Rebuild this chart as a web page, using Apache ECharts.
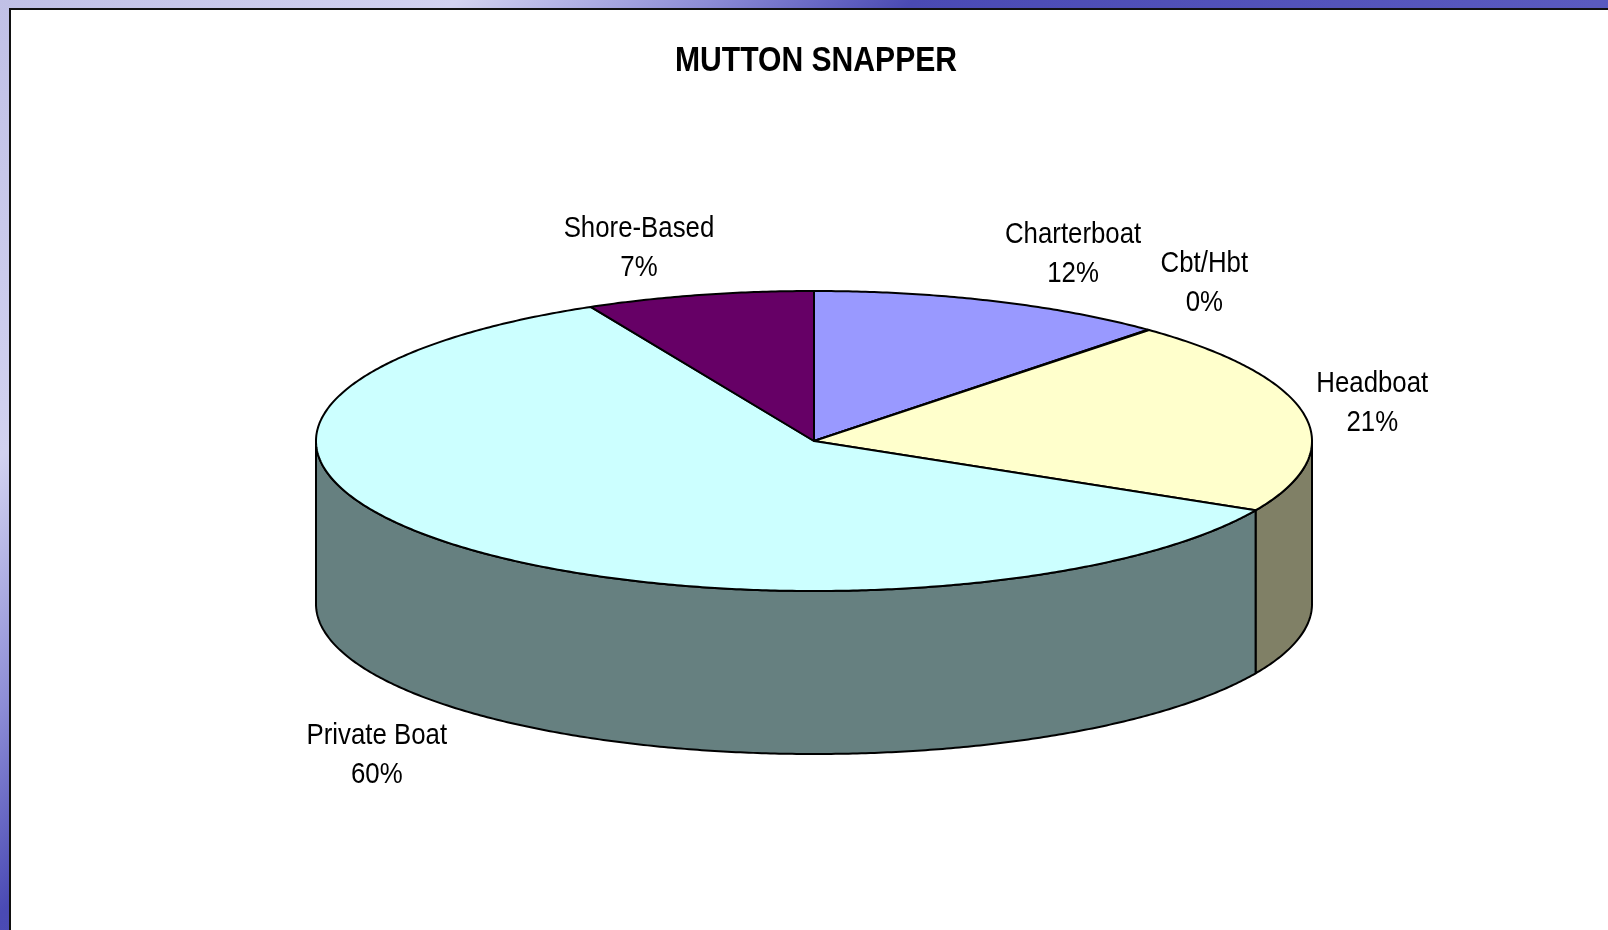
<!DOCTYPE html>
<html>
<head>
<meta charset="utf-8">
<title>Mutton Snapper</title>
<script src="https://cdn.jsdelivr.net/npm/echarts@6/dist/echarts.min.js"></script>
<style>
  html, body { margin: 0; padding: 0; }
  #chart {
    width: 1608px; height: 930px;
    background: linear-gradient(135deg, #c0c0e6 0%, #d2d2f0 18%, #8c8cd6 28%, #4a4ab4 36%, #5a5abf 63%, #4848b0 100%);
  }
</style>
</head>
<body>
<div id="chart"></div>
<script>
// data
const chartTitle = 'MUTTON SNAPPER'
const categories = ['Charterboat', 'Cbt/Hbt', 'Headboat', 'Private Boat', 'Shore-Based']
const shares = [11.7, 0.05, 20.9, 59.95, 7.4]

// excel 2003 style palette, top face + darker wall
const topColors = ['#9999FF', '#993366', '#FFFFCC', '#CCFFFF', '#660066']
const sideColors = ['#4D4D80', '#4D1A33', '#808066', '#668080', '#330033']

// pie layout (px)
const PIE = { cx: 814, cy: 441, rx: 498, ry: 150, depth: 163 }
const FONT_FAMILY = '"Liberation Sans", Arial, sans-serif'
const LABEL_FONT = '30px ' + FONT_FAMILY
const LABEL_LINE = 39
const NARROW = 0.86   // the original uses a condensed face

const total = shares.reduce((s, v) => s + v, 0)
const starts = []
let acc = 0
shares.forEach(v => { starts.push(acc / total * Math.PI * 2); acc += v })

// measure label text
const measureCtx = document.createElement('canvas').getContext('2d')
function textWidth(str) {
  measureCtx.font = LABEL_FONT
  return measureCtx.measureText(str).width * NARROW
}

// t = angle clockwise from 12 o'clock
function pt(t, dy) {
  return [PIE.cx + PIE.rx * Math.sin(t), PIE.cy - PIE.ry * Math.cos(t) + (dy || 0)]
}
function arc(a, b, dy) {
  const n = Math.max(2, Math.ceil((b - a) / (Math.PI / 360)))
  const pts = []
  for (let k = 0; k <= n; k++) pts.push(pt(a + (b - a) * k / n, dy))
  return pts
}
const clamp = v => Math.max(-1, Math.min(1, v))

function renderItem(params, api) {
  const i = params.dataIndex
  const a = starts[i]
  const b = a + shares[i] / total * Math.PI * 2
  const children = []
  const edge = { stroke: '#000', lineWidth: 2, lineJoin: 'round' }

  // front wall (only lower half of the ellipse is visible)
  const lo = Math.max(a, Math.PI / 2)
  const hi = Math.min(b, Math.PI * 1.5)
  if (hi > lo) {
    children.push({
      type: 'polygon',
      shape: { points: arc(lo, hi, 0).concat(arc(lo, hi, PIE.depth).reverse()) },
      style: Object.assign({ fill: sideColors[i] }, edge)
    })
  }

  // top face
  if (b > a) {
    children.push({
      type: 'polygon',
      shape: { points: [[PIE.cx, PIE.cy]].concat(arc(a, b, 0)) },
      style: Object.assign({ fill: topColors[i] }, edge)
    })
  }

  // label outside the slice
  const mid = (a + b) / 2
  const name = categories[i]
  const pct = Math.round(api.value(1) / total * 100) + '%'
  const p = pt(mid, Math.cos(mid) < 0 ? PIE.depth : 0)
  const w = Math.max(textWidth(name), textWidth(pct))
  const h = LABEL_LINE * 2
  children.push({
    type: 'text',
    x: p[0] + (w / 2 + 12) * clamp(Math.sin(mid) * 3),
    y: p[1] - (h / 2 + 8) * clamp(Math.cos(mid) * 1.4),
    scaleX: NARROW,
    style: {
      text: name + '\n' + pct,
      font: LABEL_FONT,
      lineHeight: LABEL_LINE,
      fill: '#000',
      align: 'center',
      verticalAlign: 'middle'
    }
  })

  return { type: 'group', children }
}

const chart = echarts.init(document.getElementById('chart'), null, { renderer: 'canvas' })
chart.setOption({
  animation: false,
  backgroundColor: 'transparent',
  graphic: [{
    type: 'rect',
    z: -10,
    silent: true,
    shape: { x: 10, y: 9, width: 1640, height: 960 },
    style: { fill: '#fff', stroke: '#111', lineWidth: 2 }
  }, {
    // title, condensed like the original
    type: 'text',
    x: 816,
    y: 61,
    scaleX: NARROW,
    style: {
      text: chartTitle,
      font: 'bold 35px ' + FONT_FAMILY,
      fill: '#000',
      align: 'center',
      verticalAlign: 'middle'
    }
  }],
  series: [{
    type: 'custom',
    coordinateSystem: 'none',
    data: categories.map((c, i) => [i, shares[i]]),
    renderItem
  }]
})
window.addEventListener('resize', () => chart.resize())
</script>
</body>
</html>
